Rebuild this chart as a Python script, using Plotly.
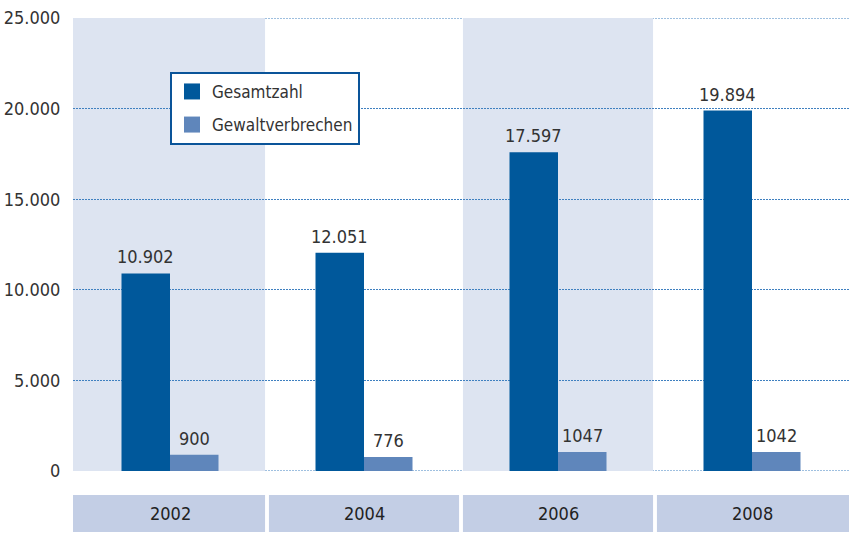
import plotly.graph_objects as go

years = ["2002", "2004", "2006", "2008"]
gesamtzahl = [10902, 12051, 17597, 19894]
gewalt = [900, 776, 1047, 1042]
y_ticks = [0, 5000, 10000, 15000, 20000, 25000]
y_tick_labels = ["0", "5.000", "10.000", "15.000", "20.000", "25.000"]

FONT = "DejaVu Sans Condensed, DejaVu Sans, sans-serif"
C_DARK = "#00589b"
C_LIGHT = "#5f86bb"
C_SHADE = "#dde4f1"
C_BOX = "#c3cee5"
C_GRID = "#3f80c0"
C_TEXT = "#333333"
DOT = "2px,1px"


def fmt(v):
    return f"{v:,}".replace(",", ".") if v >= 10000 else str(v)


x = list(range(len(years)))
BAR_OFFSET = 0.125  # centre offset of each bar in a group (bargap 0.5, 2 bars)

fig = go.Figure()
for vals, name, col in [(gesamtzahl, "Gesamtzahl", C_DARK),
                        (gewalt, "Gewaltverbrechen", C_LIGHT)]:
    fig.add_trace(go.Bar(
        x=x, y=vals, name=name, marker=dict(color=col, line=dict(width=0)),
        showlegend=False,
    ))
# legend entries with larger square symbols
for name, col in [("Gesamtzahl", C_DARK), ("Gewaltverbrechen", C_LIGHT)]:
    fig.add_trace(go.Scatter(
        x=[None], y=[None], mode="markers", name=name, legendgroup=name,
        marker=dict(symbol="square", size=16, color=col, line=dict(width=0)),
    ))

annotations = []
# value labels above bars
for k, vals in enumerate([gesamtzahl, gewalt]):
    off = -BAR_OFFSET if k == 0 else BAR_OFFSET
    for i, v in zip(x, vals):
        annotations.append(dict(x=i + off, y=v, xref="x", yref="y",
                                text=fmt(v), showarrow=False,
                                yanchor="bottom", yshift=4,
                                font=dict(size=18, color=C_TEXT, family=FONT)))

shapes = []
# shaded background columns
for i in x:
    if i % 2 == 0:
        shapes.append(dict(type="rect", xref="x", yref="y", layer="below",
                           x0=i - 0.5 if i == 0 else i - 0.49, x1=i + 0.49,
                           y0=0, y1=25000, fillcolor=C_SHADE, line_width=0))
# edge gridlines (0 and top)
for yv in (y_ticks[0], y_ticks[-1]):
    shapes.append(dict(type="line", xref="paper", yref="y", layer="between",
                       x0=0, x1=1, y0=yv, y1=yv,
                       line=dict(color=C_GRID, width=1, dash=DOT)))
# category boxes below plot
for i, yr in zip(x, years):
    x0 = -0.5 if i == 0 else i - 0.49
    x1 = 3.5 if i == len(years) - 1 else i + 0.49
    shapes.append(dict(type="rect", xref="x", yref="paper", layer="below",
                       x0=x0, x1=x1, y0=-0.1347, y1=-0.053,
                       fillcolor=C_BOX, line_width=0))
    annotations.append(dict(x=i, y=-0.0937, xref="x", yref="paper", text=yr,
                            showarrow=False, yanchor="middle",
                            font=dict(size=18, color="#222222", family=FONT)))

fig.update_layout(
    width=849, height=542,
    margin=dict(l=73, r=0, t=18, b=71, autoexpand=False),
    paper_bgcolor="white", plot_bgcolor="white",
    barmode="group", bargap=0.5, bargroupgap=0,
    font=dict(family=FONT, size=17, color=C_TEXT),
    shapes=shapes, annotations=annotations,
    legend=dict(x=0.125, y=0.881, xanchor="left", yanchor="top",
                bgcolor="white", bordercolor="#0a5499", borderwidth=2,
                font=dict(size=17, color=C_TEXT, family=FONT),
                tracegroupgap=8, traceorder="grouped"),
    xaxis=dict(range=[-0.5, 3.5], showgrid=False, zeroline=False,
               showticklabels=False, ticks="", automargin=False),
    yaxis=dict(range=[0, 25000], tickvals=y_ticks, ticktext=y_tick_labels,
               showgrid=True, gridcolor=C_GRID, griddash=DOT, gridwidth=1,
               zeroline=False, showline=False, automargin=False,
               ticks="outside", ticklen=8, tickcolor="rgba(0,0,0,0)",
               ticklabeloverflow="allow",
               tickfont=dict(size=18, color=C_TEXT, family=FONT)),
)

# remove the default page margin so the figure sits at the window's corner
fig.write_html("out.html",
               config={"displayModeBar": False},
               post_script="document.body.style.margin='0';"
                           "document.body.style.overflow='hidden';")
